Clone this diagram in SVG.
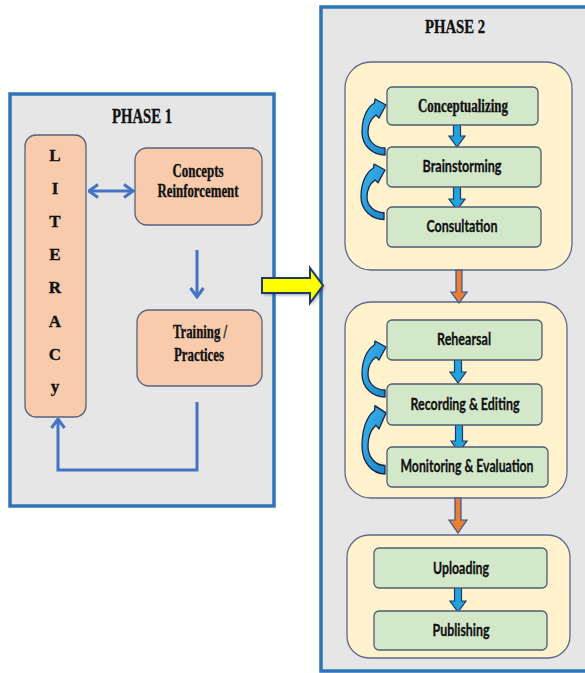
<svg xmlns="http://www.w3.org/2000/svg" width="585" height="673" viewBox="0 0 585 673">
  <style>
    .phase { fill: #E7E6E6; stroke: #2E75B6; stroke-width: 3.5; }
    .peach { fill: #F8CBAD; stroke: #56627E; stroke-width: 1.3; }
    .cream { fill: #FFF2CC; stroke: #5A6A8A; stroke-width: 1.3; }
    .green { fill: #D3E7C9; stroke: #4E5E72; stroke-width: 1.3; }
    .serif { font-family: "Liberation Serif", "Times New Roman", serif; font-weight: bold; fill: #111111; stroke: #111111; stroke-width: 0.35; }
    .sans { font-family: "Lato", "Open Sans", "Liberation Sans", sans-serif; font-weight: bold; fill: #111111; stroke: #111111; stroke-width: 0.3; }
    .link { fill: none; stroke: #4472C4; stroke-width: 3; }
    .down { fill: #1FA4DE; stroke: #1F3864; stroke-width: 1.2; }
    .orange { fill: #ED7D31; stroke: #2F5597; stroke-width: 1.2; }
    .curl { fill: url(#curlFill); stroke: #16284F; stroke-width: 1.3; stroke-linejoin: round; }
  </style>
  <defs>
    <marker id="chev" viewBox="0 0 12 16" refX="10.5" refY="8" markerWidth="12" markerHeight="16" markerUnits="userSpaceOnUse" orient="auto-start-reverse">
      <path d="M1.5,1.5 L10.5,8 L1.5,14.5" fill="none" stroke="#4472C4" stroke-width="3"/>
    </marker>
    <linearGradient id="curlFill" x1="0" y1="0" x2="1" y2="1">
      <stop offset="0" stop-color="#3DB6EC"/>
      <stop offset="1" stop-color="#1A86C8"/>
    </linearGradient>
    <filter id="soft" x="-20%" y="-30%" width="140%" height="160%">
      <feGaussianBlur stdDeviation="1.5"/>
    </filter>
    <!-- curved return arrow: tip at origin, tail centre near (0,46.5) -->
    <path id="curl" d="M-1,43 C-11,43 -18,36 -18,27 C-18,19 -14,13 -10,10 L-7,13 L0,0 L-11,-6 L-11.5,-2 C-20,3 -24,15 -24,27 C-24,41 -13,50 -1,50 Z"/>
  </defs>

  <rect width="585" height="673" fill="#FFFFFF"/>

  <!-- Phase 1 panel -->
  <g id="phase1">
    <rect class="phase" x="10" y="94" width="264" height="412"/>
    <text class="serif" x="142" y="123" font-size="20" text-anchor="middle" textLength="60" lengthAdjust="spacingAndGlyphs">PHASE 1</text>
  </g>

  <g id="literacy">
    <rect class="peach" x="25" y="135" width="61" height="282" rx="11"/>
    <g class="serif" font-size="17" text-anchor="middle">
      <text x="55" y="161">L</text>
      <text x="55" y="194">I</text>
      <text x="55" y="227">T</text>
      <text x="55" y="260">E</text>
      <text x="55" y="293">R</text>
      <text x="55" y="327">A</text>
      <text x="55" y="360">C</text>
      <text x="55" y="392">y</text>
    </g>
  </g>

  <g id="concepts">
    <rect class="peach" x="135" y="148" width="127" height="77" rx="12"/>
    <text class="serif" x="198" y="177" font-size="19" text-anchor="middle" textLength="51" lengthAdjust="spacingAndGlyphs">Concepts</text>
    <text class="serif" x="198" y="197" font-size="19" text-anchor="middle" textLength="81" lengthAdjust="spacingAndGlyphs">Reinforcement</text>
  </g>

  <g id="training">
    <rect class="peach" x="137" y="310" width="125" height="76" rx="12"/>
    <text class="serif" x="200" y="338" font-size="19" text-anchor="middle" textLength="54" lengthAdjust="spacingAndGlyphs">Training /</text>
    <text class="serif" x="199" y="361" font-size="19" text-anchor="middle" textLength="50" lengthAdjust="spacingAndGlyphs">Practices</text>
  </g>

  <!-- Phase 2 panel -->
  <g id="phase2">
    <rect class="phase" x="321" y="7" width="272" height="664"/>
    <text class="serif" x="455" y="33" font-size="18" text-anchor="middle" textLength="60" lengthAdjust="spacingAndGlyphs">PHASE 2</text>
  </g>

  <g id="stage-planning">
    <rect class="cream" x="345" y="62" width="227" height="208" rx="26"/>
  </g>
  <g id="stage-production">
    <rect class="cream" x="345" y="302" width="222" height="196" rx="26"/>
  </g>
  <g id="stage-release">
    <rect class="cream" x="347" y="535" width="223" height="123" rx="22"/>
  </g>

  <!-- connectors -->
  <g id="connectors">
    <!-- Phase 1 -->
    <line class="link" x1="89" y1="191" x2="133" y2="191" marker-start="url(#chev)" marker-end="url(#chev)"/>
    <line class="link" x1="197" y1="250" x2="197" y2="297" marker-end="url(#chev)"/>
    <polyline class="link" points="197,402 197,470 58,470 58,419" marker-end="url(#chev)"/>

    <!-- phase transition -->
    <path d="M262,278 L310,278 L310,268 L323,285.5 L310,303 L310,293 L262,293 Z" fill="#1F2F50" opacity="0.45" transform="translate(1.5,2)" filter="url(#soft)"/>
    <path d="M262,278 L310,278 L310,268 L323,285.5 L310,303 L310,293 L262,293 Z" fill="#FFFF00" stroke="#203864" stroke-width="2" stroke-linejoin="miter"/>

    <!-- stage to stage -->
    <path class="orange" d="M456,270 L462,270 L462,292 L467,292 L459,303 L451,292 L456,292 Z"/>
    <path class="orange" d="M455,498 L461,498 L461,520 L467,520 L458,533 L449,520 L455,520 Z"/>

    <!-- step to step -->
    <path class="down" d="M453.5,115 L460.5,115 L460.5,136 L465,136 L457,147 L449,136 L453.5,136 Z"/>
    <path class="down" d="M453.5,180 L460.5,180 L460.5,199 L465,199 L457,210 L449,199 L453.5,199 Z"/>
    <path class="down" d="M454.5,353 L461.5,353 L461.5,372 L466,372 L458,383 L450,372 L454.5,372 Z"/>
    <path class="down" d="M455.5,420 L462.5,420 L462.5,441 L467,441 L459,452 L451,441 L455.5,441 Z"/>
    <path class="down" d="M454.5,580 L461.5,580 L461.5,601 L466,601 L458,612 L450,601 L454.5,601 Z"/>

    <!-- feedback loops -->
    <use href="#curl" class="curl" transform="translate(386,105)"/>
    <use href="#curl" class="curl" transform="translate(385,170) scale(1,0.99)"/>
    <use href="#curl" class="curl" transform="translate(386,347)"/>
    <use href="#curl" class="curl" transform="translate(386,413) scale(1,1.22)"/>
  </g>

  <!-- Phase 2 steps -->
  <g id="conceptualizing">
    <rect class="green" x="387" y="87" width="151" height="38" rx="5"/>
    <text class="serif" x="463" y="112" font-size="18" text-anchor="middle" textLength="90" lengthAdjust="spacingAndGlyphs">Conceptualizing</text>
  </g>
  <g id="brainstorming">
    <rect class="green" x="387" y="147" width="154" height="40" rx="5"/>
    <text class="sans" x="462" y="172" font-size="17" text-anchor="middle" textLength="79" lengthAdjust="spacingAndGlyphs">Brainstorming</text>
  </g>
  <g id="consultation">
    <rect class="green" x="387" y="207" width="154" height="40" rx="5"/>
    <text class="sans" x="462" y="232" font-size="17" text-anchor="middle" textLength="71" lengthAdjust="spacingAndGlyphs">Consultation</text>
  </g>
  <g id="rehearsal">
    <rect class="green" x="387" y="320" width="155" height="40" rx="5"/>
    <text class="sans" x="464" y="345" font-size="17" text-anchor="middle" textLength="54" lengthAdjust="spacingAndGlyphs">Rehearsal</text>
  </g>
  <g id="recording">
    <rect class="green" x="387" y="384" width="155" height="41" rx="5"/>
    <text class="sans" x="465" y="410" font-size="17" text-anchor="middle" textLength="109" lengthAdjust="spacingAndGlyphs">Recording &amp; Editing</text>
  </g>
  <g id="monitoring">
    <rect class="green" x="387" y="447" width="161" height="40" rx="5"/>
    <text class="sans" x="467" y="472" font-size="16.5" text-anchor="middle" textLength="133" lengthAdjust="spacingAndGlyphs">Monitoring &amp; Evaluation</text>
  </g>
  <g id="uploading">
    <rect class="green" x="374" y="548" width="173" height="40" rx="5"/>
    <text class="sans" x="461" y="574" font-size="17" text-anchor="middle" textLength="56" lengthAdjust="spacingAndGlyphs">Uploading</text>
  </g>
  <g id="publishing">
    <rect class="green" x="374" y="611" width="173" height="39" rx="5"/>
    <text class="sans" x="461" y="636" font-size="17" text-anchor="middle" textLength="57" lengthAdjust="spacingAndGlyphs">Publishing</text>
  </g>
</svg>
